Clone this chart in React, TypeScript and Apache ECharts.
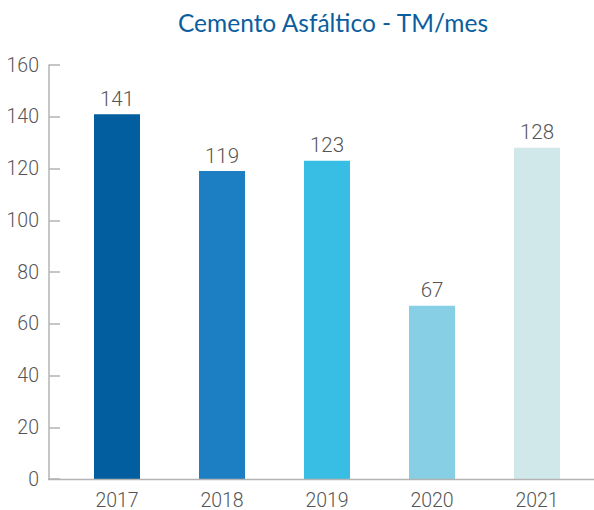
import React, { useEffect, useRef } from "react";
import * as echarts from "echarts";

const categories = ["2017", "2018", "2019", "2020", "2021"];
const values = [141, 119, 123, 67, 128];
const barColors = ["#025e9e", "#1c7fc4", "#38bee4", "#86cfe4", "#d0e8ea"];
const yTicks = { min: 0, max: 160, interval: 20 };

export default function App() {
  const ref = useRef<HTMLDivElement>(null);
  useEffect(() => {
    if (!ref.current) return;
    const chart = echarts.init(ref.current, null, { renderer: "svg" });
    chart.setOption({
      animation: false,
      title: {
        text: "Cemento Asfáltico - TM/mes",
        left: 328,
        textAlign: "center",
        top: 5,
        textStyle: {
          fontFamily: "Lato",
          fontWeight: "normal",
          fontSize: 24.5,
          color: "#0b5e9e",
        },
      },
      grid: { left: 64.5, right: 4.5, top: 65, bottom: 31 },
      xAxis: {
        type: "category",
        data: categories,
        axisLine: { show: false },
        axisTick: { show: false },
        axisLabel: {
          fontFamily: "Roboto",
          fontWeight: 300,
          fontSize: 19.5,
          color: "#555",
          margin: 11,
        },
      },
      yAxis: {
        type: "value",
        min: yTicks.min,
        max: yTicks.max,
        interval: yTicks.interval,
        offset: 15.5,
        splitLine: { show: false },
        axisLine: { show: true, lineStyle: { color: "#b3b3b3", width: 1.5 } },
        axisTick: {
          show: true,
          inside: true,
          length: 11,
          lineStyle: { color: "#b3b3b3", width: 1.5 },
        },
        axisLabel: {
          fontFamily: "Roboto",
          fontWeight: 300,
          fontSize: 19.5,
          color: "#555",
          margin: 10,
        },
      },
      graphic: [
        {
          type: "line",
          shape: { x1: 48, y1: 479.5, x2: 594, y2: 479.5 },
          style: { stroke: "#b3b3b3", lineWidth: 1.5 },
          z: 10,
        },
      ],
      series: [
        {
          type: "bar",
          barWidth: 46,
          data: values.map((v, i) => ({
            value: v,
            itemStyle: { color: barColors[i] },
          })),
          label: {
            show: true,
            position: "top",
            distance: 5,
            fontFamily: "Roboto",
            fontWeight: 300,
            fontSize: 20.5,
            color: "#555",
          },
        },
      ],
    });
    return () => chart.dispose();
  }, []);
  return (
    <div
      ref={ref}
      style={{ position: "absolute", left: 0, top: 0, width: 594, height: 510 }}
    />
  );
}
